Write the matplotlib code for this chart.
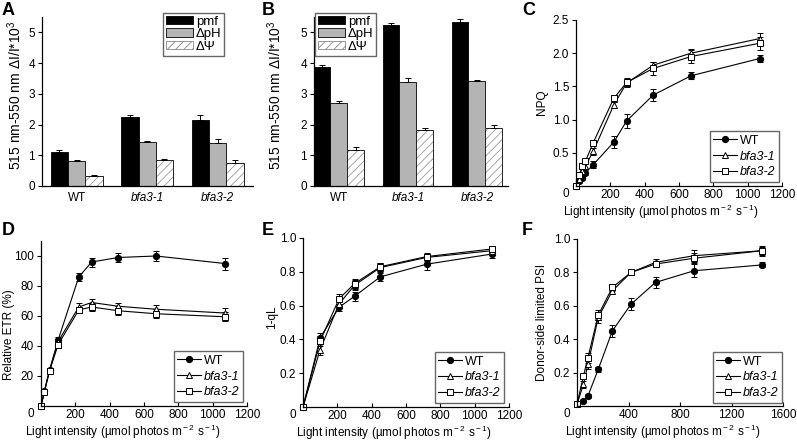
import matplotlib
matplotlib.use('Agg')
import matplotlib.pyplot as plt
from matplotlib.patches import Patch
from matplotlib.lines import Line2D
import numpy as np

plt.rcParams['font.family'] = ['Liberation Sans', 'DejaVu Sans']
plt.rcParams['mathtext.fontset'] = 'custom'
plt.rcParams['mathtext.rm'] = 'Liberation Sans'
plt.rcParams['mathtext.it'] = 'Liberation Sans:italic'
plt.rcParams['hatch.linewidth'] = 0.6

W, H = 797, 441

# ---- bar data (A, B) ----
genotypes = ['WT', 'bfa3-1', 'bfa3-2']
components = ['pmf', 'ΔpH', 'ΔΨ']

a_pmf = [1.12, 2.25, 2.16]
a_dph = [0.80, 1.42, 1.40]
a_dpsi = [0.33, 0.83, 0.75]
a_pmf_err = [0.05, 0.06, 0.14]
a_dph_err = [0.03, 0.04, 0.14]
a_dpsi_err = [0.03, 0.06, 0.10]

b_pmf = [3.86, 5.23, 5.35]
b_dph = [2.70, 3.40, 3.43]
b_dpsi = [1.17, 1.83, 1.90]
b_pmf_err = [0.09, 0.08, 0.07]
b_dph_err = [0.08, 0.13, 0.03]
b_dpsi_err = [0.10, 0.06, 0.07]

# ---- line data ----
lines = ['WT', 'bfa3-1', 'bfa3-2']

c_x = [0, 20, 35, 55, 100, 220, 295, 450, 670, 1070]
c_wt = [0, 0.07, 0.12, 0.20, 0.32, 0.66, 0.98, 1.37, 1.66, 1.92]
c_b1 = [0, 0.11, 0.22, 0.30, 0.52, 1.22, 1.55, 1.82, 2.00, 2.22]
c_b2 = [0, 0.17, 0.30, 0.37, 0.65, 1.32, 1.56, 1.77, 1.95, 2.15]
c_wt_err = [0, 0.02, 0.03, 0.04, 0.05, 0.09, 0.10, 0.09, 0.05, 0.05]
c_b1_err = [0, 0.03, 0.04, 0.04, 0.05, 0.05, 0.06, 0.05, 0.06, 0.09]
c_b2_err = [0, 0.04, 0.05, 0.04, 0.04, 0.05, 0.06, 0.10, 0.10, 0.10]

d_x = [0, 20, 50, 100, 220, 295, 450, 670, 1070]
d_wt = [0, 10, 24, 44, 86, 96, 99, 100, 95]
d_b1 = [0, 10, 24, 43, 66, 69, 66.5, 64.5, 62]
d_b2 = [0, 9.5, 23.5, 41, 64, 66, 63.5, 61.5, 59.5]
d_wt_err = [0, 1, 1.5, 2, 2.5, 3, 3, 3.5, 4]
d_b1_err = [0, 1, 1, 2, 2.5, 2.5, 2.5, 3, 3.5]
d_b2_err = [0, 1, 1, 1.5, 2, 2.5, 3, 3, 3]

e_x = [0, 100, 210, 300, 450, 720, 1100]
e_wt = [0, 0.41, 0.59, 0.655, 0.77, 0.845, 0.905]
e_b1 = [0, 0.34, 0.61, 0.72, 0.825, 0.885, 0.925]
e_b2 = [0, 0.39, 0.64, 0.73, 0.83, 0.89, 0.935]
e_wt_err = [0, 0.03, 0.02, 0.025, 0.025, 0.035, 0.025]
e_b1_err = [0, 0.03, 0.02, 0.03, 0.025, 0.02, 0.02]
e_b2_err = [0, 0.03, 0.03, 0.03, 0.02, 0.02, 0.015]

f_x = [0, 50, 85, 165, 275, 420, 610, 910, 1440]
f_wt = [0.01, 0.03, 0.06, 0.22, 0.45, 0.61, 0.74, 0.81, 0.845]
f_b1 = [0.01, 0.13, 0.25, 0.53, 0.69, 0.80, 0.86, 0.90, 0.93]
f_b2 = [0.01, 0.18, 0.29, 0.545, 0.71, 0.80, 0.85, 0.885, 0.93]
f_wt_err = [0, 0.005, 0.01, 0.015, 0.035, 0.035, 0.035, 0.04, 0.015]
f_b1_err = [0, 0.02, 0.03, 0.03, 0.02, 0.015, 0.02, 0.035, 0.03]
f_b2_err = [0, 0.02, 0.03, 0.03, 0.02, 0.015, 0.02, 0.03, 0.025]

bar_ylabel = '515 nm-550 nm ΔI/I*10$^{3}$'
light_label = 'Light intensity (µmol photos m$^{\\rm -2}$ s$^{\\rm -1}$)'
TICK = 8.5
LABEL = 8.5


def px_axes(fig, left, top, right, bottom):
    return fig.add_axes([left / W, 1 - bottom / H, (right - left) / W, (bottom - top) / H])


def style_axes(ax):
    for s in ['top', 'right']:
        ax.spines[s].set_visible(False)
    for s in ['left', 'bottom']:
        ax.spines[s].set_linewidth(0.9)


def place_ylabel(ax, x, y):
    ax.yaxis.set_label_coords(x, y)
    ax.yaxis.label.set_va('center')


def plot_bars(ax, vals, errs, xlim, leg_corner, ylab_pos):
    style_axes(ax)
    x = np.arange(len(genotypes))
    width = 0.245
    for i, (v, e) in enumerate(zip(vals, errs)):
        pos = x + (i - 1) * width
        if i == 0:
            ax.bar(pos, v, width, color='black', edgecolor='black', lw=0.6)
        elif i == 1:
            ax.bar(pos, v, width, color='#b4b4b4', edgecolor='black', lw=0.6)
        else:
            ax.bar(pos, v, width, color='white', edgecolor='#999999', hatch='////', lw=0)
            ax.bar(pos, v, width, fill=False, edgecolor='black', lw=0.6)
        ax.errorbar(pos, v, yerr=[np.zeros(len(v)), e], fmt='none', ecolor='black',
                    elinewidth=0.7, capsize=2, capthick=0.7)
    ax.set_xlim(*xlim)
    ax.set_ylim(0, 5.5)
    ax.set_yticks(range(6))
    ax.set_xticks(x)
    ax.set_xticklabels(genotypes)
    for t in ax.get_xticklabels()[1:]:
        t.set_style('italic')
    ax.tick_params(axis='x', length=0, labelsize=TICK, pad=4)
    ax.tick_params(axis='y', direction='out', length=3, width=0.8, labelsize=TICK, pad=2)
    ax.set_ylabel(bar_ylabel, fontsize=10)
    place_ylabel(ax, *ylab_pos)
    handles = [Patch(facecolor='black', edgecolor='black', lw=0.6),
               Patch(facecolor='#b4b4b4', edgecolor='black', lw=0.6),
               Patch(facecolor='white', edgecolor='#888888', hatch='////', lw=0.6)]
    leg = ax.legend(handles, components, loc='upper left',
                    bbox_to_anchor=(leg_corner[0] / W, 1 - leg_corner[1] / H),
                    bbox_transform=ax.figure.transFigure, fontsize=9.5,
                    handlelength=2.1, handleheight=0.6, handletextpad=0.2, labelspacing=0.05,
                    borderpad=0.2, borderaxespad=0, fancybox=False, edgecolor='#666666',
                    framealpha=1)
    leg.get_frame().set_linewidth(1.0)


def plot_lines(ax, x, ys, errs, xmax, xstep, ylim, yticks, fmt, ylabel, leg_corner,
               ylab_pos, xlab_x):
    style_axes(ax)
    styles = [dict(marker='o', mfc='black', ms=4.5),
              dict(marker='^', mfc='white', ms=5),
              dict(marker='s', mfc='white', ms=4.5)]
    handles = []
    for y, e, st in zip(ys, errs, styles):
        ax.errorbar(x, y, yerr=e, color='black', lw=0.8, elinewidth=0.7, capsize=2,
                    capthick=0.7, mec='black', mew=0.7, clip_on=False, **st)
        handles.append(Line2D([], [], color='black', lw=0.8, mec='black', mew=0.7, **st))
    ax.set_xlim(0, xmax)
    ax.set_ylim(*ylim)
    xt = np.arange(0, xmax + 1, xstep)
    ax.set_xticks(xt)
    ax.set_xticklabels([''] + [str(v) for v in xt[1:]])
    ax.annotate('0', xy=(0, 0), xycoords='axes fraction', xytext=(-10, -2),
                textcoords='offset pixels', ha='center', va='top', fontsize=TICK)
    ax.set_yticks(yticks)
    ax.set_yticklabels([fmt.format(v) for v in yticks])
    ax.tick_params(axis='x', direction='in', length=3, width=0.8, labelsize=TICK, pad=2)
    ax.tick_params(axis='y', direction='out', length=3, width=0.8, labelsize=TICK, pad=2)
    ax.set_xlabel(light_label, fontsize=LABEL)
    h_px = ax.get_position().height * H
    ax.xaxis.set_label_coords(xlab_x, -25.5 / h_px)
    ax.xaxis.label.set_va('center')
    ax.set_ylabel(ylabel, fontsize=LABEL)
    place_ylabel(ax, *ylab_pos)
    leg = ax.legend(handles, lines, loc='lower right',
                    bbox_to_anchor=(leg_corner[0] / W, 1 - leg_corner[1] / H),
                    bbox_transform=ax.figure.transFigure, fontsize=9,
                    handlelength=1.9, handletextpad=0.2, labelspacing=0.3, borderpad=0.3,
                    borderaxespad=0, fancybox=False, edgecolor='#666666', framealpha=1)
    leg.get_frame().set_linewidth(1.0)
    for t in leg.get_texts()[1:]:
        t.set_style('italic')


fig = plt.figure(figsize=(W / 100, H / 100), dpi=100)

ax_a = px_axes(fig, 42, 17, 253, 186)
plot_bars(ax_a, [a_pmf, a_dph, a_dpsi], [a_pmf_err, a_dph_err, a_dpsi_err],
          (-0.49, 2.5), (163, 13), (-0.128, 0.54))

ax_b = px_axes(fig, 314, 17, 508, 186)
plot_bars(ax_b, [b_pmf, b_dph, b_dpsi], [b_pmf_err, b_dph_err, b_dpsi_err],
          (-0.36, 2.45), (315, 13), (-0.2, 0.54))

ax_c = px_axes(fig, 576, 20, 782, 186)
plot_lines(ax_c, c_x, [c_wt, c_b1, c_b2], [c_wt_err, c_b1_err, c_b2_err], 1200, 200,
           (0, 2.5), [0.5, 1.0, 1.5, 2.0, 2.5], '{:.1f}', 'NPQ', (779, 182),
           (-0.165, 0.506), 0.413)

ax_d = px_axes(fig, 41, 241, 247, 406)
plot_lines(ax_d, d_x, [d_wt, d_b1, d_b2], [d_wt_err, d_b1_err, d_b2_err], 1200, 200,
           (0, 110), [20, 40, 60, 80, 100], '{:d}', 'Relative ETR (%)', (243, 402),
           (-0.155, 0.43), 0.40)

ax_e = px_axes(fig, 303, 238, 509, 407)
plot_lines(ax_e, e_x, [e_wt, e_b1, e_b2], [e_wt_err, e_b1_err, e_b2_err], 1200, 200,
           (0, 1.0), [0.2, 0.4, 0.6, 0.8, 1.0], '{:.1f}', '1-qL', (504, 403),
           (-0.15, 0.53), 0.44)

ax_f = px_axes(fig, 577, 239, 783, 406)
plot_lines(ax_f, f_x, [f_wt, f_b1, f_b2], [f_wt_err, f_b1_err, f_b2_err], 1600, 400,
           (0, 1.0), [0.2, 0.4, 0.6, 0.8, 1.0], '{:.1f}', 'Donor-side limited PSI', (782, 403),
           (-0.17, 0.5), 0.415)

for letter, (px, py) in zip('ABCDEF', [(2, 2), (262, 2), (522, 2), (2, 222), (262, 222), (522, 222)]):
    fig.text(px / W, 1 - py / H, letter, fontsize=13, fontweight='bold', ha='left', va='top')

fig.savefig('out.png', dpi=100)
